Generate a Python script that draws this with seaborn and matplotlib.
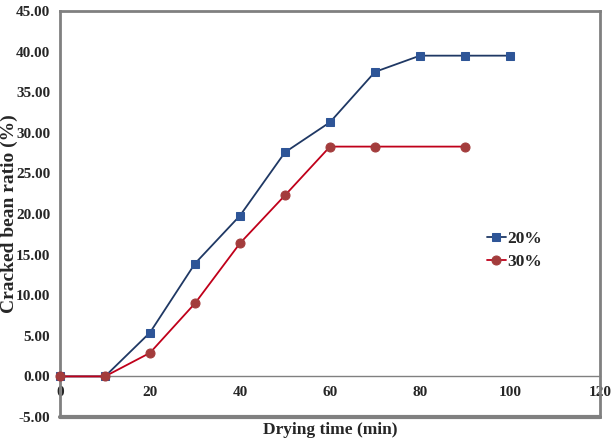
import pandas as pd
import matplotlib.pyplot as plt
import seaborn as sns

# drying time (min) and cracked bean ratio (%)
time_20 = [0, 10, 20, 30, 40, 50, 60, 70, 80, 90, 100]
ratio_20 = [0.0, 0.0, 5.4, 13.9, 19.8, 27.6, 31.3, 37.5, 39.5, 39.5, 39.5]
time_30 = [0, 10, 20, 30, 40, 50, 60, 70, 90]
ratio_30 = [0.0, 0.0, 2.9, 9.0, 16.4, 22.3, 28.3, 28.3, 28.3]

x_ticks = [0, 20, 40, 60, 80, 100, 120]
y_ticks = [-5, 0, 5, 10, 15, 20, 25, 30, 35, 40, 45]

sns.set_style("white")
plt.rcParams['font.family'] = ['Liberation Serif', 'DejaVu Serif']
plt.rcParams['font.weight'] = 'bold'

fig = plt.figure(figsize=(6.16, 4.45), dpi=100)
ax = fig.add_axes([0.0974, 0.0629, 0.8766, 0.9124])

df20 = pd.DataFrame({'time': time_20, 'ratio': ratio_20})
df30 = pd.DataFrame({'time': time_30, 'ratio': ratio_30})

sns.lineplot(data=df20, x='time', y='ratio', ax=ax, color='#1F3864', lw=1.3,
             marker='s', markersize=6, markerfacecolor='#2E5597',
             markeredgecolor='#2E5597', label='20%', clip_on=False, zorder=3)
sns.lineplot(data=df30, x='time', y='ratio', ax=ax, color='#C0001A', lw=1.3,
             marker='o', markersize=6.5, markerfacecolor='#A33C3C',
             markeredgecolor='#A33C3C', label='30%', clip_on=False, zorder=3)

ax.set_xlim(0, 120)
ax.set_ylim(-5, 45)
ax.set_xticks(x_ticks)
ax.set_yticks(y_ticks)
ax.set_yticklabels([f"{v:.2f}" for v in y_ticks])

# x axis sits on the zero line, frame closed at -5
for side in ['left', 'right', 'top', 'bottom']:
    ax.spines[side].set_visible(True)
    ax.spines[side].set_color('#808080')
    ax.spines[side].set_linewidth(2.0)
ax.spines['bottom'].set_position(('data', 0))
ax.spines['bottom'].set_linewidth(1.0)
ax.axhline(-5, color='#808080', lw=3.0, clip_on=False)

ax.tick_params(axis='x', direction='in', length=4, color='#808080', pad=7, labelsize=11)
ax.tick_params(axis='y', direction='in', length=3, color='#808080', pad=7, labelsize=11)
for lab in ax.get_xticklabels() + ax.get_yticklabels():
    lab.set_fontweight('bold')

ax.set_xlabel('Drying time (min)', fontsize=12.5, fontweight='bold')
ax.xaxis.set_label_coords(0.5, -0.012)
ax.set_ylabel('Cracked bean ratio (%)', fontsize=14, fontweight='bold')
ax.yaxis.set_label_coords(-0.077, 0.5)

leg = ax.legend(loc='upper left', bbox_to_anchor=(0.79, 0.458), frameon=False,
                borderaxespad=0, borderpad=0,
                handlelength=1.1, handletextpad=0.1, labelspacing=0.4,
                prop={'weight': 'bold', 'size': 12.5})

fig.savefig('out.png', dpi=100)
